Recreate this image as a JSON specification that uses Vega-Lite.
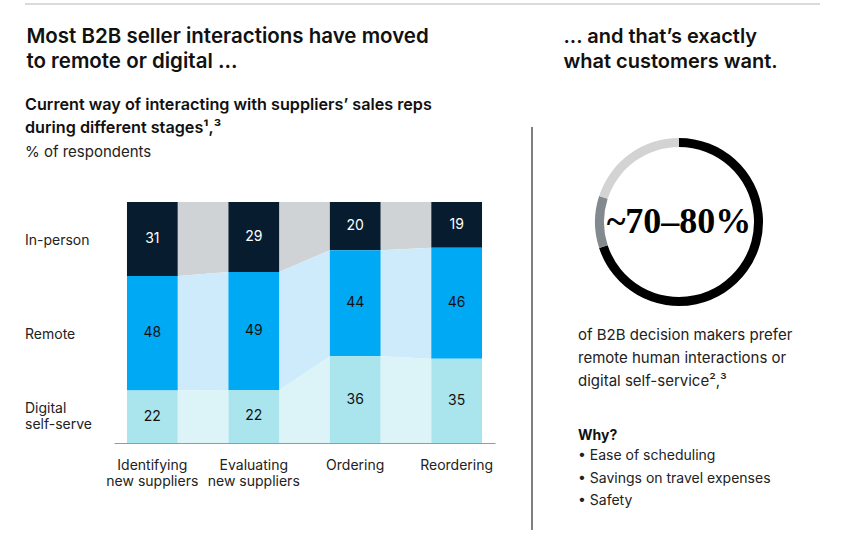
{
  "$schema": "https://vega.github.io/schema/vega-lite/v6.json",
  "padding": {"left": 24, "top": 3, "right": 0, "bottom": 0},
  "autosize": {"type": "pad"},
  "background": "white",
  "config": {
    "view": {"stroke": null},
    "font": "Inter",
    "title": {"color": "#111111", "font": "Inter", "subtitleFont": "Inter"},
    "text": {"font": "Inter"},
    "axis": {"labelFont": "Inter"}
  },
  "datasets": {
    "stages": [
      {"stage": "Identifying new suppliers", "segment": "In-person", "value": 31},
      {"stage": "Identifying new suppliers", "segment": "Remote", "value": 48},
      {"stage": "Identifying new suppliers", "segment": "Digital self-serve", "value": 22},
      {"stage": "Evaluating new suppliers", "segment": "In-person", "value": 29},
      {"stage": "Evaluating new suppliers", "segment": "Remote", "value": 49},
      {"stage": "Evaluating new suppliers", "segment": "Digital self-serve", "value": 22},
      {"stage": "Ordering", "segment": "In-person", "value": 20},
      {"stage": "Ordering", "segment": "Remote", "value": 44},
      {"stage": "Ordering", "segment": "Digital self-serve", "value": 36},
      {"stage": "Reordering", "segment": "In-person", "value": 19},
      {"stage": "Reordering", "segment": "Remote", "value": 46},
      {"stage": "Reordering", "segment": "Digital self-serve", "value": 35}
    ],
    "donut": [
      {"group": "Prefer remote or digital", "share": 70},
      {"group": "Upper range", "share": 10},
      {"group": "Other", "share": 20}
    ],
    "headline": [{"label": "~70–80%"}]
  },
  "bounds": "flush",
  "spacing": 123,
  "vconcat": [
    {
      "hconcat": [
        {
          "width": 537,
          "height": 1,
          "data": {"values": [{}]},
          "mark": {"type": "rule", "color": "#b5b5b5", "strokeWidth": 1.2},
          "encoding": {"y": {"datum": 1, "type": "quantitative", "scale": {"domain": [0, 1]}, "axis": null}},
          "title": {
            "text": ["Most B2B seller interactions have moved", "to remote or digital ..."],
            "orient": "bottom", "anchor": "start", "dx": 2, "offset": 22,
            "fontSize": 20.5, "fontWeight": 600, "lineHeight": 25, "color": "#111111"
          }
        },
        {
          "width": 258,
          "height": 1,
          "data": {"values": [{}]},
          "mark": {"type": "rule", "color": "#b5b5b5", "strokeWidth": 1.2},
          "encoding": {"y": {"datum": 1, "type": "quantitative", "scale": {"domain": [0, 1]}, "axis": null}},
          "title": {
            "text": ["... and that’s exactly", "what customers want."],
            "orient": "bottom", "anchor": "start", "dx": 2, "offset": 22,
            "fontSize": 20, "fontWeight": 600, "lineHeight": 25, "color": "#111111"
          }
        }
      ],
      "spacing": 0,
      "bounds": "flush"
    },
    {
      "hconcat": [
        {
          "width": 89,
          "height": 316,
          "data": {"name": "stages"},
          "transform": [
            {"window": [{"op": "row_number", "as": "rn"}]},
            {"calculate": "floor((datum.rn - 1) / 3)", "as": "idx"},
            {"stack": "value", "groupby": ["stage"], "sort": [{"field": "rn", "order": "ascending"}], "offset": "normalize", "as": ["y0", "y1"]},
            {"calculate": "(datum.y0 + datum.y1) / 2", "as": "mid"},
            {"filter": "datum.idx === 0"}
          ],
          "title": {
            "text": ["Current way of interacting with suppliers’ sales reps", "during different stages¹,³"],
            "subtitle": "% of respondents",
            "orient": "top", "anchor": "start", "offset": -33,
            "fontSize": 16.2, "fontWeight": 600, "lineHeight": 23,
            "subtitleFontSize": 15, "subtitleFontWeight": 400, "subtitleLineHeight": 23,
            "subtitlePadding": 9, "subtitleColor": "#222222", "color": "#111111"
          },
          "layer": [
            {
              "transform": [{"filter": "datum.segment !== 'Digital self-serve'"}],
              "mark": {"type": "text", "align": "left", "baseline": "middle", "fontSize": 14, "dy": 2, "color": "#222222"},
              "encoding": {
                "x": {"datum": 0, "type": "quantitative", "scale": {"domain": [0, 1]}, "axis": null},
                "y": {"field": "mid", "type": "quantitative", "scale": {"domain": [0, 1], "range": [75, 316], "nice": false, "zero": false}, "axis": null},
                "text": {"field": "segment", "type": "nominal"}
              }
            },
            {
              "transform": [{"filter": "datum.segment === 'Digital self-serve'"}],
              "mark": {"type": "text", "align": "left", "baseline": "middle", "fontSize": 14, "lineBreak": " ", "lineHeight": 16, "dy": -8, "color": "#222222"},
              "encoding": {
                "x": {"datum": 0, "type": "quantitative", "scale": {"domain": [0, 1]}, "axis": null},
                "y": {"field": "mid", "type": "quantitative", "scale": {"domain": [0, 1], "range": [75, 316], "nice": false, "zero": false}, "axis": null},
                "text": {"field": "segment", "type": "nominal"}
              }
            }
          ]
        },
        {
          "width": 381,
          "height": 316,
          "data": {"name": "stages"},
          "transform": [
            {"window": [{"op": "row_number", "as": "rn"}]},
            {"calculate": "floor((datum.rn - 1) / 3)", "as": "idx"},
            {"stack": "value", "groupby": ["stage"], "sort": [{"field": "rn", "order": "ascending"}], "offset": "normalize", "as": ["y0", "y1"]},
            {"calculate": "(datum.y0 + datum.y1) / 2", "as": "mid"}
          ],
          "layer": [
            {
              "transform": [
                {"calculate": "datum.idx - 1", "as": "gl"},
                {"calculate": "datum.idx", "as": "gr"},
                {"fold": ["gl", "gr"], "as": ["side", "gap"]},
                {"filter": "datum.gap >= 0 && datum.gap <= 2"},
                {"calculate": "datum.side === 'gl' ? datum.idx : datum.idx + 0.5", "as": "xp"}
              ],
              "mark": {"type": "area", "interpolate": "linear"},
              "encoding": {
                "x": {"field": "xp", "type": "quantitative", "scale": {"domain": [-0.128, 3.628], "nice": false, "zero": false}, "axis": null},
                "y": {"field": "y0", "type": "quantitative", "scale": {"domain": [0, 1], "range": [75, 316], "nice": false, "zero": false}, "axis": null},
                "y2": {"field": "y1"},
                "detail": {"field": "gap", "type": "nominal"},
                "color": {"field": "segment", "type": "nominal", "scale": {"domain": ["In-person", "Remote", "Digital self-serve"], "range": ["#cfd3d6", "#cdebfb", "#dcf3f7"]}, "legend": null}
              }
            },
            {
              "mark": {"type": "bar"},
              "encoding": {
                "x": {
                  "field": "stage", "type": "nominal", "sort": null,
                  "scale": {"type": "band", "paddingInner": 0.5, "paddingOuter": 0.128},
                  "axis": {
                    "title": null, "labelAngle": 0, "ticks": false, "domainColor": "#9a9a9a",
                    "labelFontSize": 14, "labelColor": "#222222", "labelPadding": 15, "labelLineHeight": 16,
                    "labelExpr": "split(replace(datum.label, ' new ', '|new '), '|')"
                  }
                },
                "y": {"field": "y0", "type": "quantitative", "scale": {"domain": [0, 1], "range": [75, 316], "nice": false, "zero": false}, "axis": null},
                "y2": {"field": "y1"},
                "color": {"field": "segment", "type": "nominal", "scale": {"domain": ["In-person", "Remote", "Digital self-serve"], "range": ["#071c2e", "#00a9f4", "#aae5ee"]}, "legend": null}
              }
            },
            {
              "mark": {"type": "text", "fontSize": 14, "baseline": "middle"},
              "encoding": {
                "x": {"field": "stage", "type": "nominal", "sort": null, "scale": {"type": "band", "paddingInner": 0.5, "paddingOuter": 0.128}, "axis": null},
                "y": {"field": "mid", "type": "quantitative", "scale": {"domain": [0, 1], "range": [75, 316], "nice": false, "zero": false}, "axis": null},
                "text": {"field": "value", "type": "quantitative"},
                "color": {"condition": {"test": "datum.segment === 'In-person'", "value": "#ffffff"}, "value": "#111111"}
              }
            }
          ],
          "resolve": {"scale": {"x": "independent", "color": "independent"}}
        },
        {
          "width": 37,
          "height": 403,
          "data": {"values": [{}]},
          "mark": {"type": "rule", "color": "#000000", "strokeWidth": 1},
          "encoding": {"x": {"datum": 1, "type": "quantitative", "scale": {"domain": [0, 1]}, "axis": null}}
        },
        {
          "vconcat": [
            {
              "width": 294,
              "height": 190,
              "title": {
                "text": ["of B2B decision makers prefer", "remote human interactions or", "digital self-service²,³"],
                "orient": "bottom", "anchor": "start", "dx": 46, "offset": 11,
                "fontSize": 15, "fontWeight": 400, "lineHeight": 23, "color": "#222222"
              },
              "layer": [
                {
                  "data": {"name": "donut"},
                  "transform": [{"window": [{"op": "row_number", "as": "rn"}]}],
                  "mark": {"type": "arc", "outerRadius": 84, "innerRadius": 75},
                  "encoding": {
                    "theta": {"field": "share", "type": "quantitative", "stack": true},
                    "order": {"field": "rn", "type": "quantitative"},
                    "color": {"field": "group", "type": "nominal", "scale": {"domain": ["Prefer remote or digital", "Upper range", "Other"], "range": ["#000000", "#828a90", "#d3d3d3"]}, "legend": null}
                  }
                },
                {
                  "data": {"name": "headline"},
                  "mark": {"type": "text", "font": "Liberation Serif", "fontSize": 36, "fontWeight": "bold", "baseline": "middle", "color": "#000000"},
                  "encoding": {"text": {"field": "label", "type": "nominal"}}
                }
              ]
            },
            {
              "width": 294,
              "height": 1,
              "data": {"values": [{}]},
              "mark": {"type": "point", "opacity": 0},
              "encoding": {},
              "title": {
                "text": "Why?",
                "subtitle": ["• Ease of scheduling", "• Savings on travel expenses", "• Safety"],
                "orient": "bottom", "anchor": "start", "dx": 46, "offset": 27,
                "fontSize": 14, "fontWeight": 700, "color": "#111111",
                "subtitleFontSize": 14, "subtitleLineHeight": 22.5, "subtitlePadding": 6, "subtitleColor": "#222222"
              }
            }
          ],
          "spacing": 82,
          "bounds": "flush"
        }
      ],
      "spacing": 0,
      "bounds": "flush"
    }
  ]
}
